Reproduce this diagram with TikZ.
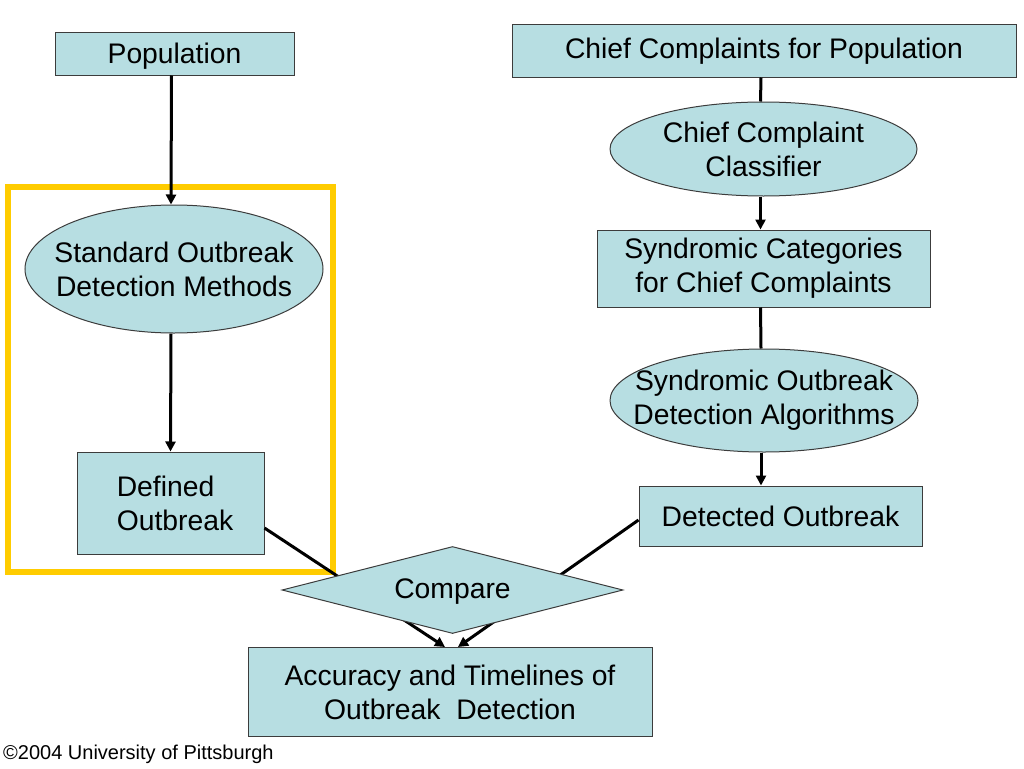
\documentclass[tikz,border=0pt]{standalone}
\usepackage{fontspec}
\setmainfont{Liberation Sans}
\usetikzlibrary{shapes.geometric,arrows.meta,calc}
\definecolor{boxfill}{RGB}{183,222,226}
\definecolor{boxline}{RGB}{60,60,60}
\definecolor{frameyellow}{RGB}{255,204,0}
\begin{document}
\begin{tikzpicture}[x=1pt,y=-1pt,
  every node/.style={font=\fontsize{28.3}{34}\selectfont, text=black, inner sep=0pt, align=center},
  rbox/.style={draw=boxline, line width=1pt, fill=boxfill, rectangle},
  ebox/.style={draw=boxline, line width=1pt, fill=boxfill, ellipse},
  dbox/.style={draw=boxline, line width=1pt, fill=boxfill, diamond, aspect=3.9},
  conn/.style={draw=black, line width=3pt},
  arr/.style={conn, -{Triangle[length=10pt,width=10pt]}},
  yframe/.style={draw=frameyellow, line width=5.5pt, rectangle, fill=none}
]
\useasboundingbox (0,0) rectangle (1024,768);

% yellow frame
\node[yframe, minimum width=325pt, minimum height=385pt] (frame) at (170.5,379.5) {};

% left column
\node[rbox, minimum width=239pt, minimum height=42pt] (pop) at (174.5,54) {};
\node (poptxt) at (174.5,56) {Population};
\node[ebox, minimum width=298pt, minimum height=128pt] (std) at (174,269) {};
\node (stdtxt) at (std.center) {Standard Outbreak\\Detection Methods};
\node[rbox, minimum width=187pt, minimum height=102pt] (def) at (170.5,503) {};
\node[align=left] (deftxt) at (175,503) {Defined\\Outbreak};

% right column
\node[rbox, minimum width=504pt, minimum height=52pt] (cc) at (764,51) {Chief Complaints for Population};
\node[ebox, minimum width=307pt, minimum height=94pt] (ccc) at (763.5,149) {};
\node (ccctxt) at (ccc.center) {Chief Complaint\\Classifier};
\node[rbox, minimum width=333pt, minimum height=77pt] (syn) at (763.5,268.5) {Syndromic Categories\\for Chief Complaints};
\node[ebox, minimum width=308pt, minimum height=103pt] (sod) at (764,400.5) {};
\node (sodtxt) at (sod.center) {Syndromic Outbreak\\Detection Algorithms};
\node[rbox, minimum width=283pt, minimum height=60pt] (det) at (780.5,516) {Detected Outbreak};

% bottom
\node[rbox, minimum width=404pt, minimum height=89pt] (acc) at (450,692) {Accuracy and Timelines of\\Outbreak\ \ Detection};

% connectors
\draw[arr] ($(pop.south)+(-3,0)$) -- ($(std.north)+(-3,0)$);
\draw[arr] ($(std.south)+(-3,0)$) -- (def.north);
\draw[conn] ($(cc.south)+(-3,0)$) -- ($(ccc.north)+(-3,0)$);
\draw[arr] ($(ccc.south)+(-3,0)$) -- ($(syn.north)+(-3,0)$);
\draw[conn] ($(syn.south)+(-3,0)$) -- ($(sod.north)+(-3,0)$);
\draw[arr] ($(sod.south)+(-3,0)$) -- ($(det.north -| sod.south)+(-3,0)$);
\draw[arr] ($(def.east)+(0,25)$) -- ($(acc.north)+(-5,0)$);
\draw[arr] ($(det.west)+(0,4)$) -- ($(acc.north)+(8,0)$);

% compare diamond drawn over the converging arrows
\node[dbox, minimum width=341pt, minimum height=87pt] (cmp) at (452.5,590) {};
\node (cmptxt) at (452.5,592) {Compare};

% copyright
\node[anchor=base west, font=\fontsize{20}{24}\selectfont] (copy) at (3,759) {©2004 University of Pittsburgh};
\end{tikzpicture}
\end{document}
